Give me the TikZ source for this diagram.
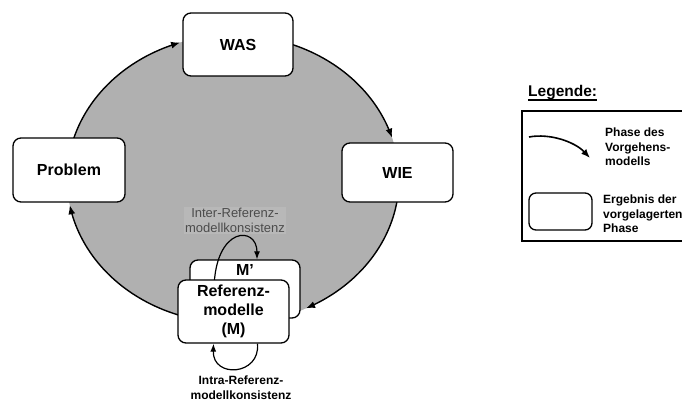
\documentclass[tikz,border=0pt]{standalone}
\usepackage{fontspec}
\setmainfont{Liberation Sans}
\usetikzlibrary{arrows.meta,calc}
\definecolor{cyclegray}{gray}{0.69}
\definecolor{labelgray}{gray}{0.30}
\definecolor{labelback}{gray}{0.72}
\begin{document}
\begin{tikzpicture}[x=1pt,y=-1pt,
  box/.style={draw=black, line width=1.3pt, rounded corners=8pt, fill=white,
    align=center, font=\fontsize{16}{19}\selectfont\bfseries, inner sep=0pt},
  phase/.style={line width=1.4pt, -{Latex[length=9pt,width=7pt]}},
  loopline/.style={line width=1.2pt, -{Latex[length=8pt,width=6pt]}},
  legtext/.style={font=\fontsize{12}{14.5}\selectfont\bfseries, align=left, inner sep=0pt},
]
\useasboundingbox (0,0) rectangle (682,401);
\clip (0,0) rectangle (682,401);
\fill[white] (0,0) rectangle (682,401);

% grey phase cycle with its four phase arrows along the rim
\fill[cyclegray] (233,179) ellipse [x radius=166, y radius=144];
\draw[phase] plot[domain=185:251.4,samples=60] ({233+166*cos(\x)},{179+144*sin(\x)});
\draw[phase] plot[domain=270:343.3,samples=60] ({233+166*cos(\x)},{179+144*sin(\x)});
\draw[phase] plot[domain=0:63.9,samples=60] ({233+166*cos(\x)},{179+144*sin(\x)});
\draw[phase] plot[domain=100:169.5,samples=60] ({233+166*cos(\x)},{179+144*sin(\x)});

% results of the phases
\node[box, minimum width=110pt, minimum height=63pt] (was) at (238,44.5) {WAS};
\node[box, minimum width=112pt, minimum height=64pt] (problem) at (69,170) {Problem};
\node[box, minimum width=111pt, minimum height=59pt] (wie) at (397.5,172.5) {WIE};

% inter-model consistency label
\node[font=\fontsize{13}{15}\selectfont, text=labelgray, fill=labelback, align=center, inner sep=1pt]
  (interlab) at (235,220.5) {Inter-Referenz-\\modellkonsistenz};

% second reference model behind the first one
\node[box, minimum width=110pt, minimum height=58pt,
  label={[anchor=north, font=\fontsize{16}{19}\selectfont\bfseries, inner sep=0pt, yshift=-5pt]north:M'}]
  (mback) at (245,289) {};
\draw[loopline] ([xshift=-31pt]mback.center) .. controls +(1,-63) and +(0,-34) .. ([xshift=12pt]mback.north);

% reference model in front
\node[box, minimum width=111pt, minimum height=63pt] (ref) at (233.5,311.5) {Referenz-\\modelle\\(M)};
\draw[loopline] ([xshift=24pt]ref.south) .. controls +(3,32) and +(-1,35) .. ([xshift=-20pt]ref.south);
\node[font=\fontsize{12}{15}\selectfont\bfseries, align=center, inner sep=0pt]
  (intralab) at (241,388) {Intra-Referenz-\\modellkonsistenz};

% legend
\node[anchor=base west, font=\fontsize{15.5}{18}\selectfont\bfseries, inner sep=0pt] (legtitle) at (528,97) {Legende:};
\draw[line width=1.1pt] ($(legtitle.base west)+(0,3)$) -- ($(legtitle.base east)+(0,3)$);
\draw[line width=1.3pt] (522,111) rectangle (700,241);
\coordinate (legA) at (529,137);
\coordinate (legB) at (590,158);
\draw[phase, line width=1.6pt] (legA) .. controls +(21,-4) and +(-15,-16) .. (legB);
\node[legtext, anchor=west] (legphase) at (605,147) {Phase des\\Vorgehens-\\modells};
\node[draw, line width=1.3pt, rounded corners=7pt, minimum width=63pt, minimum height=37pt, inner sep=0pt]
  (legbox) at (560.5,211.5) {};
\node[legtext, anchor=west] (legresult) at (603,214) {Ergebnis der\\vorgelagerten\\Phase};
\end{tikzpicture}
\end{document}
